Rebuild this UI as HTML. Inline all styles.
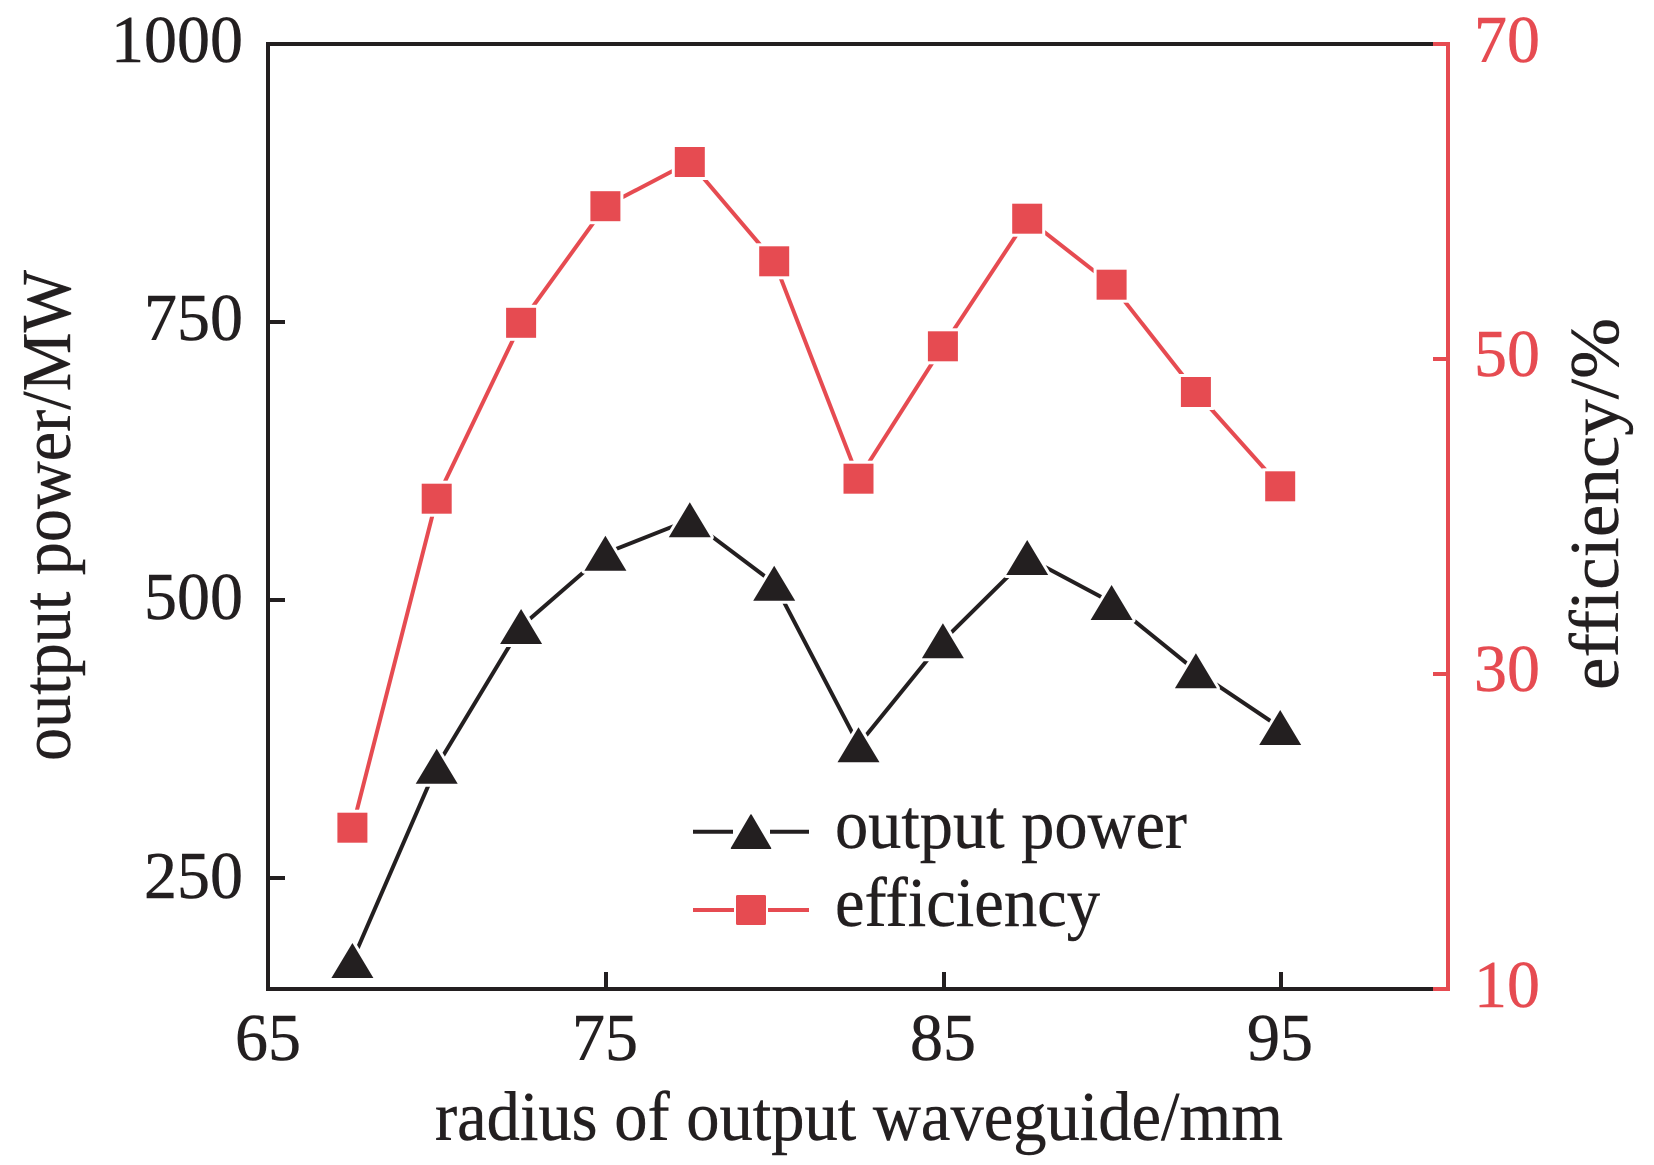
<!DOCTYPE html>
<html>
<head>
<meta charset="utf-8">
<style>
  html, body { margin: 0; padding: 0; background: #ffffff; }
  svg { display: block; }
  text { font-family: "Liberation Serif", "Times New Roman", serif; font-variant-ligatures: none; }
</style>
</head>
<body>
<svg width="1654" height="1165" viewBox="0 0 1654 1165" xmlns="http://www.w3.org/2000/svg">
  <rect x="0" y="0" width="1654" height="1165" fill="#ffffff"/>

  <!-- Axes frame -->
  <g stroke="#231f20" stroke-width="4" fill="none" stroke-linecap="square">
    <line x1="268" y1="44" x2="1446" y2="44"/>
    <line x1="268" y1="44" x2="268" y2="989"/>
    <line x1="268" y1="989" x2="1446" y2="989"/>
    <line x1="268" y1="322" x2="285" y2="322" stroke-linecap="butt"/>
    <line x1="268" y1="600" x2="285" y2="600" stroke-linecap="butt"/>
    <line x1="268" y1="878" x2="285" y2="878" stroke-linecap="butt"/>
    <line x1="606" y1="989" x2="606" y2="972" stroke-linecap="butt"/>
    <line x1="944" y1="989" x2="944" y2="972" stroke-linecap="butt"/>
    <line x1="1281" y1="989" x2="1281" y2="972" stroke-linecap="butt"/>
  </g>
  <g stroke="#e64b51" stroke-width="4" fill="none">
    <line x1="1448" y1="42" x2="1448" y2="991"/>
    <line x1="1433" y1="44" x2="1448" y2="44"/>
    <line x1="1433" y1="359" x2="1448" y2="359"/>
    <line x1="1433" y1="674" x2="1448" y2="674"/>
    <line x1="1433" y1="989" x2="1448" y2="989"/>
  </g>

  <!-- Left tick labels -->
  <g fill="#231f20" stroke="#231f20" stroke-width="0.5" font-size="67" text-anchor="end">
    <text x="243" y="62" textLength="132" lengthAdjust="spacingAndGlyphs">1000</text>
    <text x="243" y="340" textLength="99" lengthAdjust="spacingAndGlyphs">750</text>
    <text x="243" y="619" textLength="99" lengthAdjust="spacingAndGlyphs">500</text>
    <text x="243" y="898" textLength="99" lengthAdjust="spacingAndGlyphs">250</text>
  </g>
  <!-- Right tick labels -->
  <g fill="#e64b51" stroke="#e64b51" stroke-width="0.5" font-size="67" text-anchor="start">
    <text x="1474" y="62" textLength="66" lengthAdjust="spacingAndGlyphs">70</text>
    <text x="1474" y="376" textLength="66" lengthAdjust="spacingAndGlyphs">50</text>
    <text x="1474" y="691" textLength="66" lengthAdjust="spacingAndGlyphs">30</text>
    <text x="1474" y="1007" textLength="66" lengthAdjust="spacingAndGlyphs">10</text>
  </g>
  <!-- Bottom tick labels -->
  <g fill="#231f20" stroke="#231f20" stroke-width="0.5" font-size="67" text-anchor="middle">
    <text x="268" y="1060" textLength="66" lengthAdjust="spacingAndGlyphs">65</text>
    <text x="605" y="1060" textLength="66" lengthAdjust="spacingAndGlyphs">75</text>
    <text x="943" y="1060" textLength="66" lengthAdjust="spacingAndGlyphs">85</text>
    <text x="1280" y="1060" textLength="66" lengthAdjust="spacingAndGlyphs">95</text>
  </g>

  <!-- Axis titles -->
  <g fill="#231f20" stroke="#231f20" stroke-width="0.4">
    <text x="435" y="1140" font-size="70" textLength="848" lengthAdjust="spacingAndGlyphs">radius of output waveguide/mm</text>
    <text transform="translate(70,761) rotate(-90)" x="0" y="0" font-size="70" textLength="491" lengthAdjust="spacingAndGlyphs">output power/MW</text>
    <text transform="translate(1618,690) rotate(-90)" x="0" y="0" font-size="70" textLength="372" lengthAdjust="spacingAndGlyphs">efficiency/%</text>
  </g>

  <!-- Efficiency series -->
  <polyline fill="none" stroke="#e64b51" stroke-width="4" stroke-linejoin="round"
    points="352.4,827.7 436.7,498.7 521.1,322.8 605.4,206.2 689.8,162 774.2,261.3 858.5,478.7 942.9,346.3 1027.2,218.7 1111.6,284.7 1195.9,392 1280.2,486.3"/>
  <g fill="#e64b51" stroke="#ffffff" stroke-width="6" paint-order="stroke">
    <rect x="337.4" y="812.7" width="30" height="30"/>
    <rect x="421.7" y="483.7" width="30" height="30"/>
    <rect x="506.1" y="307.8" width="30" height="30"/>
    <rect x="590.4" y="191.2" width="30" height="30"/>
    <rect x="674.8" y="147" width="30" height="30"/>
    <rect x="759.2" y="246.3" width="30" height="30"/>
    <rect x="843.5" y="463.7" width="30" height="30"/>
    <rect x="927.9" y="331.3" width="30" height="30"/>
    <rect x="1012.2" y="203.7" width="30" height="30"/>
    <rect x="1096.6" y="269.7" width="30" height="30"/>
    <rect x="1180.9" y="377" width="30" height="30"/>
    <rect x="1265.2" y="471.3" width="30" height="30"/>
  </g>

  <!-- Output power series -->
  <polyline fill="none" stroke="#231f20" stroke-width="4" stroke-linejoin="round"
    points="352.4,960.5 436.7,766.3 521.1,626.5 605.4,553.2 689.8,519.8 774.2,583.3 858.5,744.7 942.9,640.8 1027.2,557.5 1111.6,602.5 1195.9,670.8 1280.2,727.5"/>
  <g fill="#231f20" stroke="#ffffff" stroke-width="6" paint-order="stroke" stroke-linejoin="round">
    <polygon points="352.4,943 373.4,978 331.4,978"/>
    <polygon points="436.7,748.8 457.7,783.8 415.7,783.8"/>
    <polygon points="521.1,609 542.1,644 500.1,644"/>
    <polygon points="605.4,535.7 626.4,570.7 584.4,570.7"/>
    <polygon points="689.8,502.3 710.8,537.3 668.8,537.3"/>
    <polygon points="774.2,565.8 795.2,600.8 753.2,600.8"/>
    <polygon points="858.5,727.2 879.5,762.2 837.5,762.2"/>
    <polygon points="942.9,623.3 963.9,658.3 921.9,658.3"/>
    <polygon points="1027.2,540 1048.2,575 1006.2,575"/>
    <polygon points="1111.6,585 1132.6,620 1090.6,620"/>
    <polygon points="1195.9,653.3 1216.9,688.3 1174.9,688.3"/>
    <polygon points="1280.2,710 1301.2,745 1259.2,745"/>
  </g>

  <!-- Legend -->
  <g stroke="#231f20" stroke-width="4">
    <line x1="693" y1="831.7" x2="733" y2="831.7"/>
    <line x1="770" y1="831.7" x2="809" y2="831.7"/>
  </g>
  <polygon points="751,815 770.5,848.3 731.5,848.3" fill="#231f20" stroke="#231f20" stroke-width="1.5" stroke-linejoin="round"/>
  <text x="835" y="848" font-size="70" fill="#231f20" stroke="#231f20" stroke-width="0.4" textLength="352" lengthAdjust="spacingAndGlyphs">output power</text>

  <g stroke="#e64b51" stroke-width="4">
    <line x1="693" y1="910" x2="734" y2="910"/>
    <line x1="768" y1="910" x2="809" y2="910"/>
  </g>
  <rect x="736" y="895" width="30" height="30" fill="#e64b51" rx="1.5"/>
  <text x="835" y="926" font-size="70" fill="#231f20" stroke="#231f20" stroke-width="0.4" textLength="265" lengthAdjust="spacingAndGlyphs">efficiency</text>
</svg>
</body>
</html>
